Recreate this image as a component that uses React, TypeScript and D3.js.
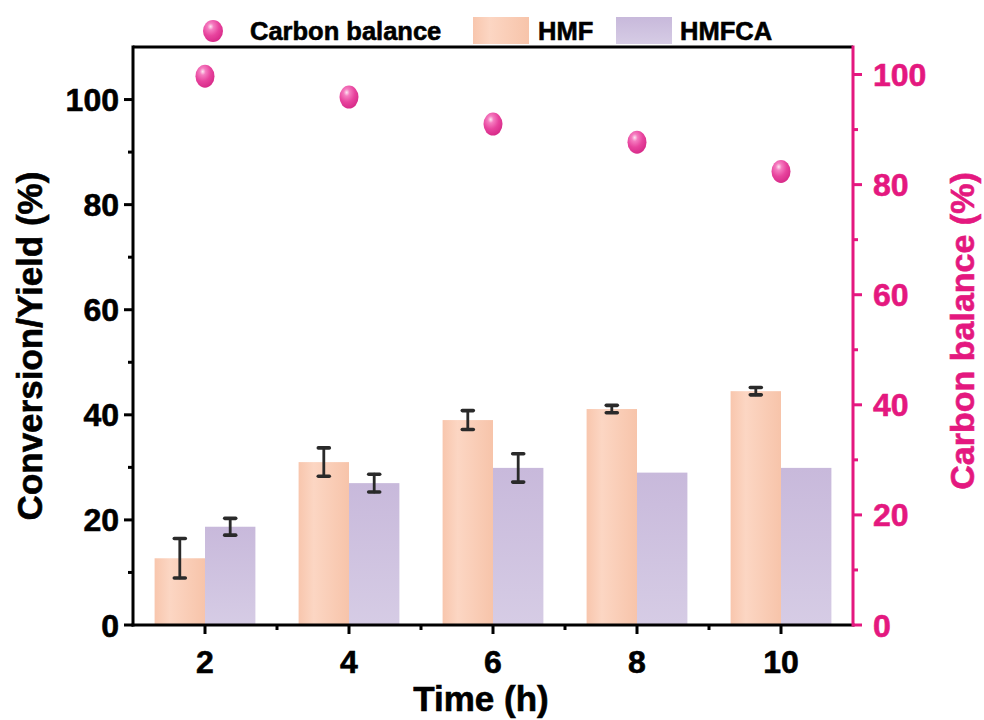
import React from "react";
import * as d3 from "d3";

const times = [2, 4, 6, 8, 10];
const hmf = [12.7, 31.0, 39.0, 41.1, 44.5];
const hmfErr = [3.75, 2.7, 1.8, 0.7, 0.7];
const hmfca = [18.7, 27.0, 29.9, 29.0, 29.9];
const hmfcaErr: (number | null)[] = [1.6, 1.7, 2.7, null, null];
const carbon = [99.7, 95.9, 91.0, 87.7, 82.4];
const leftTicks = [0, 20, 40, 60, 80, 100];
const leftMinor = [10, 30, 50, 70, 90];
const rightTicks = [0, 20, 40, 60, 80, 100];
const rightMinor = [10, 30, 50, 70, 90];
const xTicks = [2, 4, 6, 8, 10];
const xMinor = [3, 5, 7, 9];

const W = 984, H = 720;
const L = 133, R = 853, T = 47, B = 625;
const PINK = "#e4187f";
const FONT = "'Liberation Sans', Arial, sans-serif";

export default function App() {
  const x = d3.scaleLinear().domain([1, 11]).range([L, R]);
  const y = d3.scaleLinear().domain([0, 110]).range([B, T]);
  const yr = d3.scaleLinear().domain([0, 105]).range([B, T]);
  const bw = 0.7;

  const errBar = (cx: number, v: number, e: number, k: string) => (
    <g key={k} stroke="#2a2a2a" strokeLinecap="round">
      <line x1={cx} x2={cx} y1={y(v + e)} y2={y(v - e)} strokeWidth={2.8} />
      <line x1={cx - 5.5} x2={cx + 5.5} y1={y(v + e)} y2={y(v + e)} strokeWidth={3.6} />
      <line x1={cx - 5.5} x2={cx + 5.5} y1={y(v - e)} y2={y(v - e)} strokeWidth={3.6} />
    </g>
  );

  const heavy = { stroke: "currentColor", strokeWidth: 0.6 } as const;

  return (
    <svg width={W} height={H} style={{ position: "absolute", left: 0, top: 0, background: "#fff" }} fontFamily={FONT} fontWeight="bold">
      <defs>
        <linearGradient id="gHMF" x1="0" x2="1" y1="0" y2="0">
          <stop offset="0" stopColor="#f8c6ad" />
          <stop offset="0.3" stopColor="#fcd6c3" />
          <stop offset="1" stopColor="#f7c4aa" />
        </linearGradient>
        <linearGradient id="gHMFCA" x1="0" x2="0" y1="0" y2="1">
          <stop offset="0" stopColor="#c8b9db" />
          <stop offset="1" stopColor="#d6cce5" />
        </linearGradient>
        <radialGradient id="gBall" cx="0.38" cy="0.3" r="0.7">
          <stop offset="0" stopColor="#fde6f2" />
          <stop offset="0.22" stopColor="#f57cc0" />
          <stop offset="0.6" stopColor="#e8449e" />
          <stop offset="1" stopColor="#d82c8a" />
        </radialGradient>
      </defs>

      {/* bars */}
      {times.map((t, i) => (
        <rect key={"h" + i} x={x(t - bw)} y={y(hmf[i])} width={x(t) - x(t - bw)} height={B - y(hmf[i])} fill="url(#gHMF)" />
      ))}
      {times.map((t, i) => (
        <rect key={"c" + i} x={x(t)} y={y(hmfca[i])} width={x(t + bw) - x(t)} height={B - y(hmfca[i])} fill="url(#gHMFCA)" />
      ))}
      {times.map((t, i) => errBar(x(t - bw / 2), hmf[i], hmfErr[i], "eh" + i))}
      {times.map((t, i) => {
        const e = hmfcaErr[i];
        return e == null ? null : errBar(x(t + bw / 2), hmfca[i], e, "ec" + i);
      })}

      {/* carbon balance points */}
      {times.map((t, i) => (
        <ellipse key={"p" + i} cx={x(t)} cy={yr(carbon[i])} rx={9.5} ry={11.5} fill="url(#gBall)" />
      ))}

      {/* frame */}
      <line x1={L} x2={R} y1={T} y2={T} stroke="#000" strokeWidth={3} />
      <line x1={L - 1.5} x2={R + 1.5} y1={B} y2={B} stroke="#000" strokeWidth={3} />
      <line x1={L} x2={L} y1={T - 1.5} y2={B + 1.5} stroke="#000" strokeWidth={3} />
      <line x1={R} x2={R} y1={T - 1.5} y2={B + 1.5} stroke={PINK} strokeWidth={3} />

      <g color="#000" fill="#000">
        {/* x axis */}
        {xTicks.map((t) => (
          <g key={"xt" + t}>
            <line x1={x(t)} x2={x(t)} y1={B} y2={B + 9} stroke="#000" strokeWidth={3} />
            <text x={x(t)} y={673} textAnchor="middle" fontSize={32} {...heavy}>{t}</text>
          </g>
        ))}
        {xMinor.map((t) => (
          <line key={"xm" + t} x1={x(t)} x2={x(t)} y1={B} y2={B + 5} stroke="#000" strokeWidth={3} />
        ))}
        <text x={481} y={711} textAnchor="middle" fontSize={35} {...heavy}>Time (h)</text>

        {/* left axis */}
        {leftTicks.map((v) => (
          <g key={"yl" + v}>
            <line x1={L} x2={L - 9} y1={y(v)} y2={y(v)} stroke="#000" strokeWidth={3} />
            <text x={119} y={y(v)} dy="0.36em" textAnchor="end" fontSize={32} {...heavy}>{v}</text>
          </g>
        ))}
        {leftMinor.map((v) => (
          <line key={"ylm" + v} x1={L} x2={L - 5} y1={y(v)} y2={y(v)} stroke="#000" strokeWidth={3} />
        ))}
        <text transform={`translate(42,${(T + B) / 2 + 10}) rotate(-90)`} textAnchor="middle" fontSize={35} {...heavy}>Conversion/Yield (%)</text>
      </g>

      {/* right axis */}
      <g color={PINK} fill={PINK}>
        {rightTicks.map((v) => (
          <g key={"yr" + v}>
            <line x1={R} x2={R + 9} y1={yr(v)} y2={yr(v)} stroke={PINK} strokeWidth={3} />
            <text x={873} y={yr(v)} dy="0.36em" textAnchor="start" fontSize={32} {...heavy}>{v}</text>
          </g>
        ))}
        {rightMinor.map((v) => (
          <line key={"yrm" + v} x1={R} x2={R + 5} y1={yr(v)} y2={yr(v)} stroke={PINK} strokeWidth={3} />
        ))}
        <text transform={`translate(974,${(T + B) / 2 - 5}) rotate(-90)`} textAnchor="middle" fontSize={34} {...heavy}>Carbon balance (%)</text>
      </g>

      {/* legend */}
      <g color="#000" fill="#000">
        <ellipse cx={213} cy={31} rx={10} ry={11} fill="url(#gBall)" />
        <text x={250} y={40} fontSize={25.5} {...heavy}>Carbon balance</text>
        <rect x={473} y={17} width={56} height={27} fill="url(#gHMF)" />
        <text x={538} y={40} fontSize={25.5} {...heavy}>HMF</text>
        <rect x={616} y={17} width={56} height={27} fill="url(#gHMFCA)" />
        <text x={680} y={40} fontSize={25.5} {...heavy}>HMFCA</text>
      </g>
    </svg>
  );
}
